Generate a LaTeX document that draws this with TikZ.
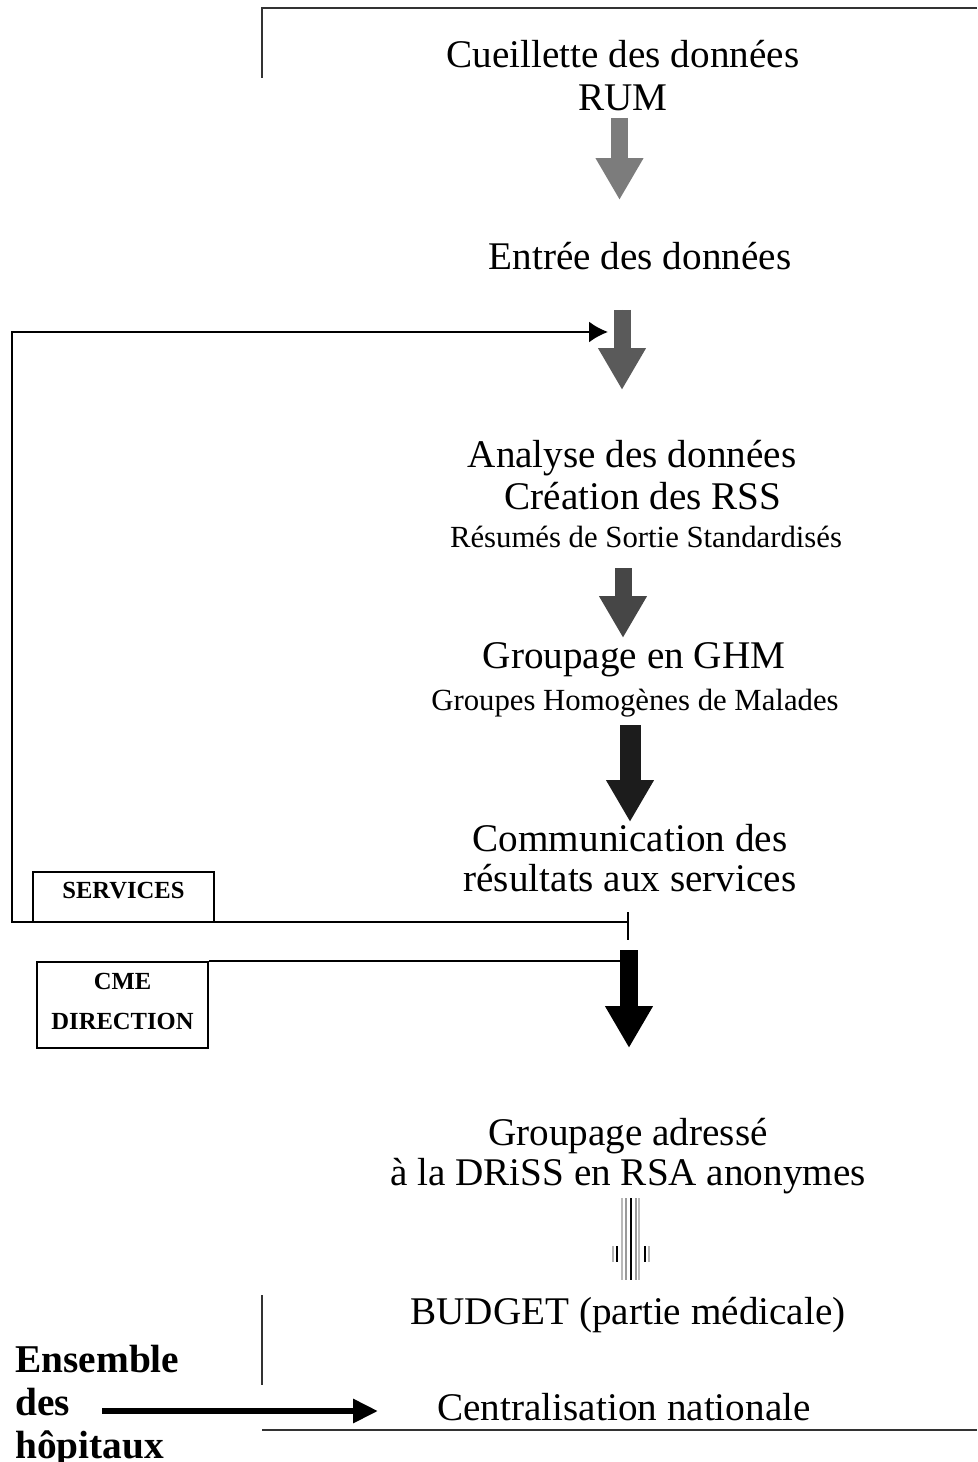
\documentclass[tikz,border=0pt]{standalone}
\usepackage{fontspec}
\setmainfont{Liberation Serif}
\usetikzlibrary{arrows.meta, positioning}
\definecolor{ArrowGray}{HTML}{7C7C7C}
\definecolor{ArrowDim}{HTML}{5A5A5A}
\definecolor{ArrowDark}{HTML}{464646}
\definecolor{ArrowInk}{HTML}{1C1C1C}
\definecolor{FrameGray}{HTML}{333333}
\tikzset{
  bigtext/.style={font=\fontsize{22.3}{24.5}\selectfont, align=center, inner sep=0pt},
  smalltext/.style={font=\fontsize{17.5}{20}\selectfont, align=center, inner sep=0pt},
  boldtext/.style={font=\fontsize{22.4}{24.5}\selectfont\bfseries, align=left, inner sep=0pt},
  labelbox/.style={draw, line width=1.2pt, font=\fontsize{14}{22.8}\selectfont\bfseries, align=center, inner sep=0pt},
  blockarrow/.style={line width=0.34cm, -{Triangle[length=0.84cm, width=0.9cm]}},
  frameline/.style={draw=FrameGray, line width=0.9pt},
  loopline/.style={line width=1.2pt}
}

\begin{document}
\begin{tikzpicture}[x=0.02cm, y=-0.02cm]
\useasboundingbox (0,0) rectangle (977,1462);
% frame
\draw[frameline, line width=1.2pt] (262,78) -- (262,8) -- (977,8);
\draw[frameline] (262,1295) -- (262,1385);
\draw[frameline] (262,1430) -- (977,1430);
% text blocks
\node[bigtext] (cueil) at (623,76) {Cueillette des donn\'ees\\RUM};
\node[bigtext] (entree) at (640,256) {Entr\'ee des donn\'ees};
\node[bigtext] (analyse) at (632,458) {Analyse des donn\'ees};
\node[bigtext] (creation) at (643,496) {Cr\'eation des RSS};
\node[smalltext] (rss) at (646,537) {R\'esum\'es de Sortie Standardis\'es};
\node[bigtext] (ghm) at (634,660) {Groupage en GHM};
\node[smalltext] (ghmsub) at (635,703) {Groupes Homog\`enes de Malades};
\node[bigtext, font=\fontsize{22.3}{22.8}\selectfont] (comm) at (630,858) {Communication des\\r\'esultats aux services};
\node[bigtext, font=\fontsize{22.3}{22.8}\selectfont] (groupage) at (628,1156) {Groupage adress\'e\\\`a la DRiSS en RSA anonymes};
\node[bigtext] (budget) at (628,1315) {BUDGET (partie m\'edicale)};
\node[bigtext] (central) at (624,1407) {Centralisation nationale};
\node[boldtext, anchor=west] (ensemble) at (15,1406) {Ensemble\\des\\h\^opitaux};
% side boxes
\node[labelbox, minimum width=3.62cm, minimum height=1cm, text depth=0.28cm] (services) at (123.5,897) {SERVICES};
\node[labelbox, minimum width=3.42cm, minimum height=1.72cm, text depth=0.16cm] (cme) at (122.5,1005) {CME\\DIRECTION};
% block arrows
\coordinate (a1s) at (619.5,118); \coordinate (a1e) at (619.5,200);
\coordinate (a2s) at (622,310);   \coordinate (a2e) at (622,390);
\coordinate (a3s) at (623,568);   \coordinate (a3e) at (623,638);
\coordinate (a4s) at (630,725);   \coordinate (a4e) at (630,822);
\coordinate (a5s) at (629,950);   \coordinate (a5e) at (629,1048);
\draw[loopline] (cme.north east) -- (cme.north east -| a5s);
\draw[blockarrow, draw=ArrowGray, fill=ArrowGray] (a1s) -- (a1e);
\draw[blockarrow, draw=ArrowDim, fill=ArrowDim] (a2s) -- (a2e);
\draw[blockarrow, draw=ArrowDark, fill=ArrowDark] (a3s) -- (a3e);
\draw[blockarrow, draw=ArrowInk, fill=ArrowInk, line width=0.42cm] (a4s) -- (a4e);
\draw[blockarrow, draw=black, fill=black, line width=0.36cm] (a5s) -- (a5e);
% feedback to data entry
\coordinate (fb) at (628,922);
\draw[loopline] (628,912) -- (628,940);
\draw[loopline, -{Latex[length=0.38cm, width=0.42cm]}] (fb) -- (12,922) -- (12,332) -- (608,332);
% striped arrow to budget
\foreach \sx/\sc in {622/gray!55, 626/gray!80, 631/black, 636/gray!80, 639/gray!55}
  \draw[line width=1.4pt, draw=\sc] (\sx,1198) -- (\sx,1280);
\foreach \sx/\sc in {613/gray!60, 617/black, 645/black, 649/gray!60}
  \draw[line width=1.2pt, draw=\sc] (\sx,1246) -- (\sx,1262);
% hospitals to national
\draw[line width=0.12cm, -{Triangle[length=0.5cm, width=0.46cm]}] (102,1411) -- (378,1411);
\end{tikzpicture}
\end{document}
